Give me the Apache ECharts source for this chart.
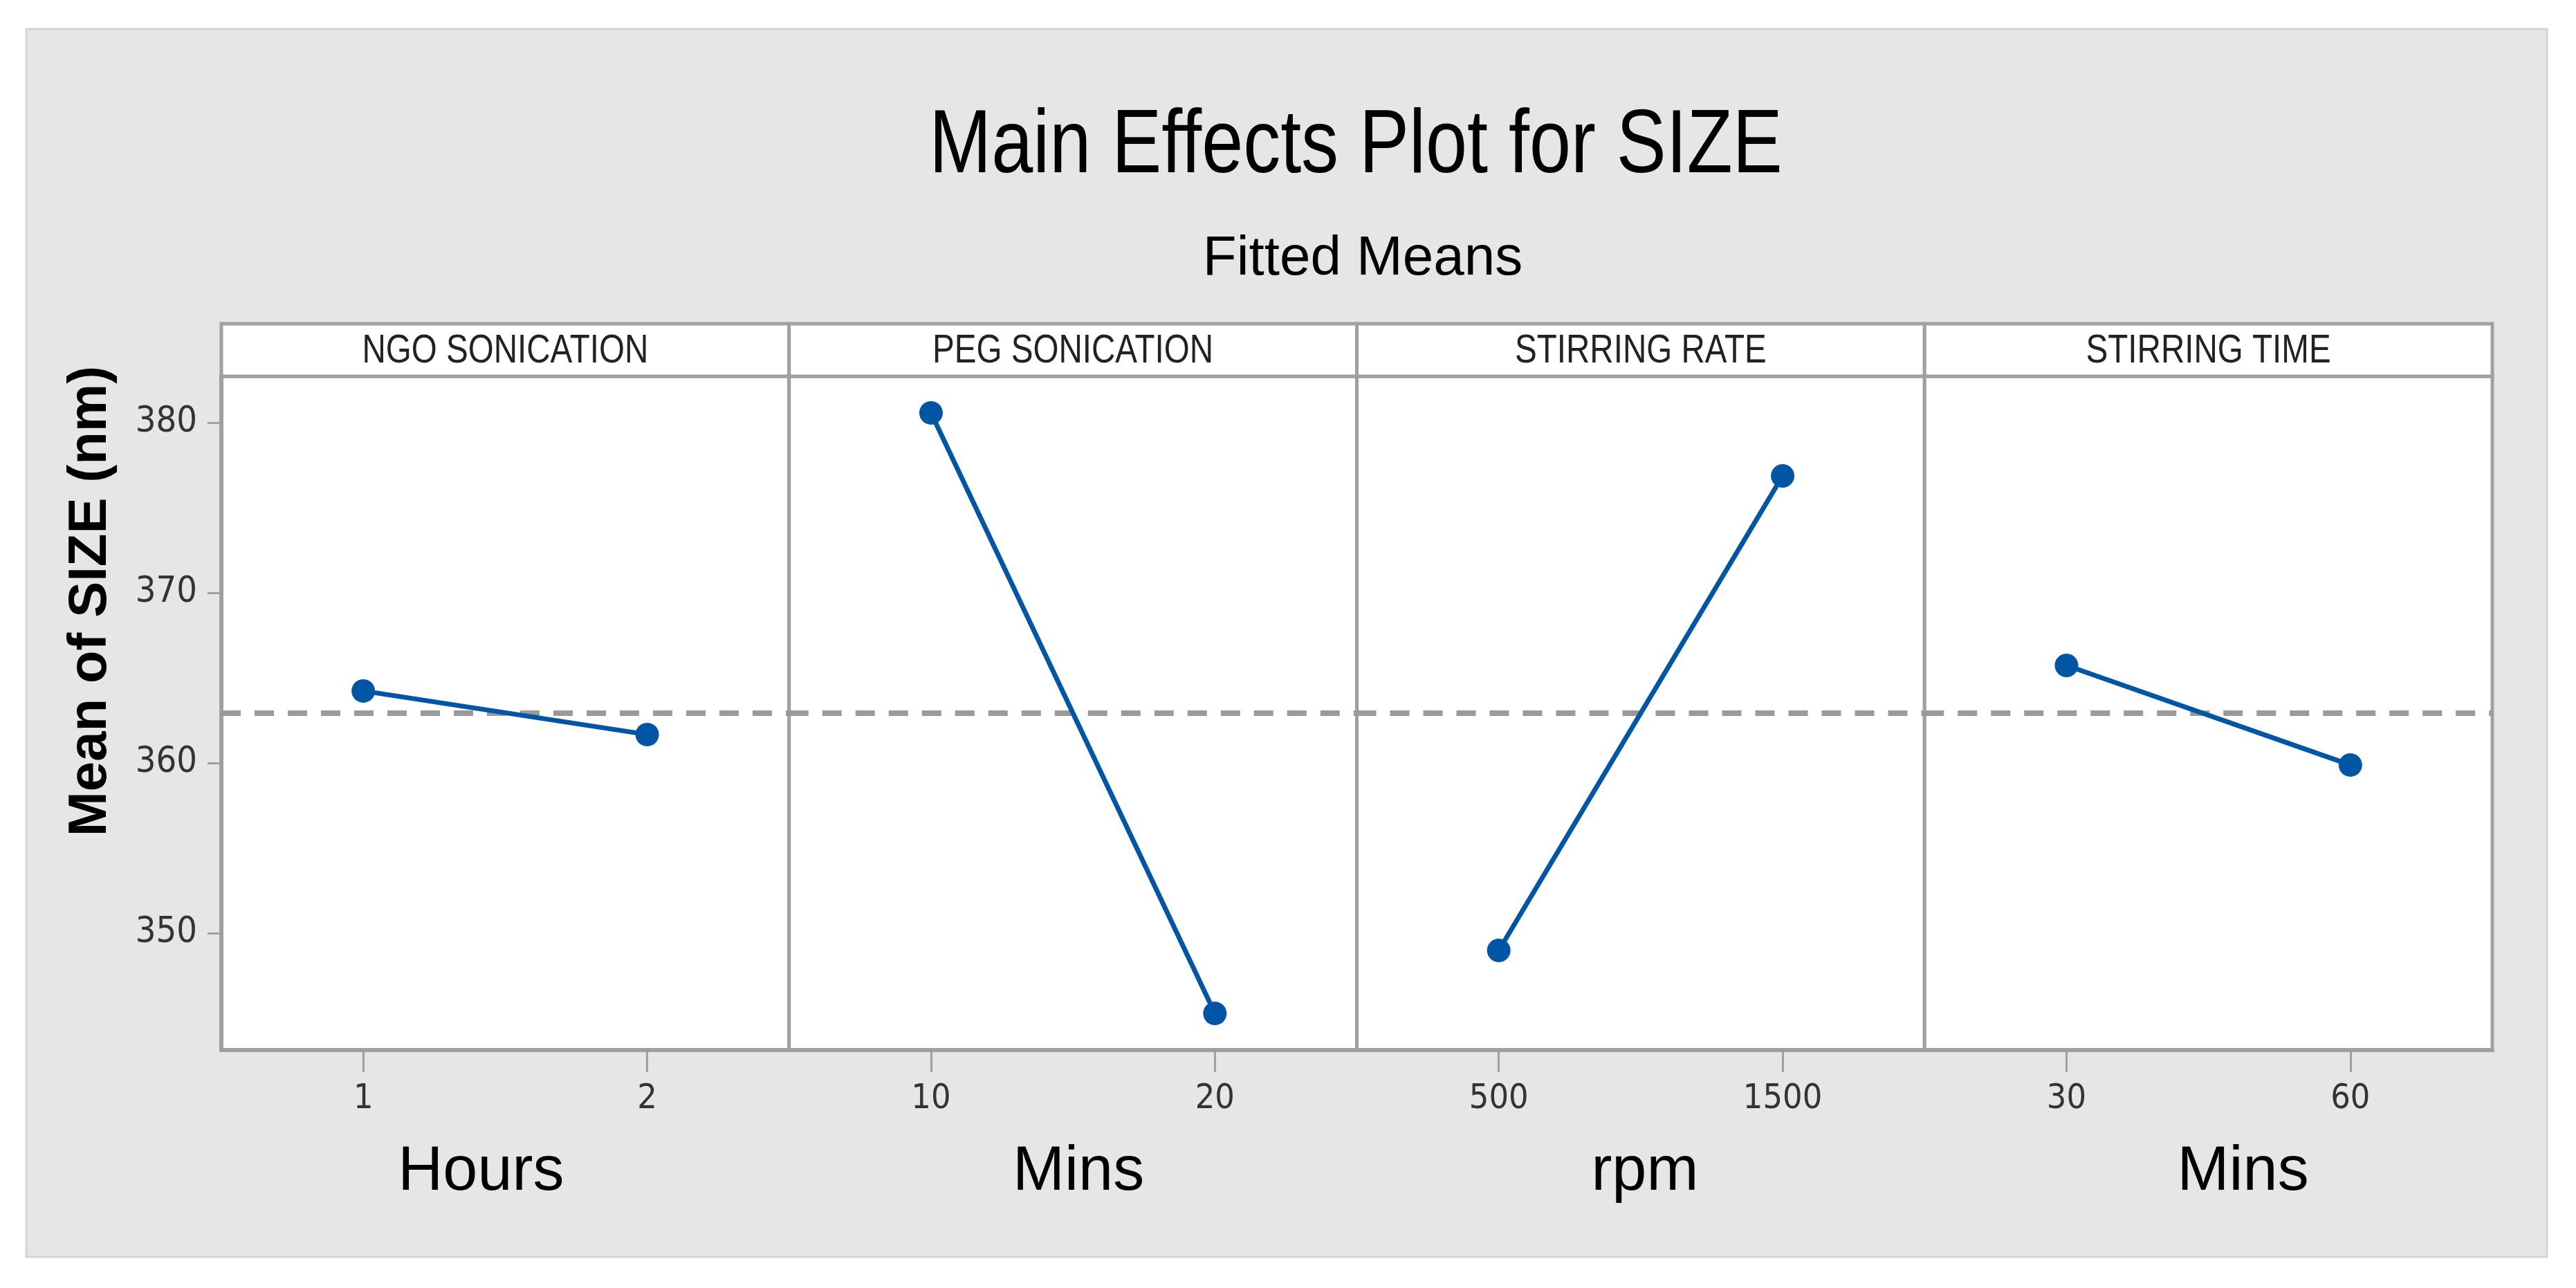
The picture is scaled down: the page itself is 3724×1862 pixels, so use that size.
<!DOCTYPE html>
<html>
<head>
<meta charset="utf-8">
<script src="https://cdn.jsdelivr.net/npm/echarts@6/dist/echarts.min.js"></script>
<style>
html,body{margin:0;padding:0;background:#ffffff;}
#c{width:3724px;height:1862px;}
</style>
</head>
<body>
<div id="c"></div>
<script>
// ---- data ----
const panelTitles = ['NGO SONICATION', 'PEG SONICATION', 'STIRRING RATE', 'STIRRING TIME'];
const levelLabels = [['1', '2'], ['10', '20'], ['500', '1500'], ['30', '60']];
const unitLabels = ['Hours', 'Mins', 'rpm', 'Mins'];
const ngoMeans = [364.23, 361.67];
const pegMeans = [380.57, 345.28];
const rateMeans = [348.98, 376.87];
const timeMeans = [365.73, 359.88];
const grandMean = 362.93;
const yTicks = [350, 360, 370, 380];
const yLabel = 'Mean of SIZE (nm)';
const mainTitle = 'Main Effects Plot for SIZE';
const subTitle = 'Fitted Means';

// ---- layout / style ----
const NARROW = '"Liberation Sans Narrow", "DejaVu Sans Condensed", "Liberation Sans", Arial, sans-serif';
const SANS = '"Liberation Sans", Arial, sans-serif';
const L = 320, R = 3603, TOP = 544, BOT = 1518, HEAD_TOP = 468;
const PW = (R - L) / 4;
const FRAME = '#a0a0a0';
const BLUE = '#0055a5';
const nameShift = [-35, 8, 6, 50];
const seriesData = [ngoMeans, pegMeans, rateMeans, timeMeans];

const grids = [], xAxes = [], yAxes = [], series = [], graphics = [];

graphics.push({
  type: 'rect', z: -100, silent: true,
  shape: { x: 38, y: 42, width: 3644, height: 1775 },
  style: { fill: '#e6e6e6', stroke: '#d4d4d4', lineWidth: 3 }
});

graphics.push({
  type: 'text', z: 20, silent: true,
  x: 1960, y: 213, scaleX: 0.83,
  style: {
    text: mainTitle, fontSize: 130, fontFamily: SANS, fill: '#000000',
    align: 'center', verticalAlign: 'middle'
  }
});

for (let i = 0; i < 4; i++) {
  const left = L + i * PW;
  grids.push({
    left: left, top: TOP, width: PW, height: BOT - TOP,
    show: true, backgroundColor: '#ffffff', borderColor: FRAME, borderWidth: 5,
    containLabel: false, outerBoundsMode: 'none'
  });
  const sh = nameShift[i];
  xAxes.push({
    type: 'category', gridIndex: i, data: levelLabels[i], boundaryGap: true,
    axisLine: { show: true, lineStyle: { color: FRAME, width: 6 } },
    axisTick: { show: true, alignWithLabel: true, length: 32, lineStyle: { color: FRAME, width: 3 } },
    axisLabel: { margin: 46, fontSize: 50, color: '#333333', fontFamily: NARROW },
    splitLine: { show: false },
    name: unitLabels[i], nameLocation: 'middle', nameGap: 132,
    nameTextStyle: {
      fontSize: 90, color: '#000000', fontFamily: SANS,
      padding: sh >= 0 ? [0, 0, 0, 2 * sh] : [0, -2 * sh, 0, 0]
    }
  });
  yAxes.push({
    type: 'value', gridIndex: i, min: 343.13, max: 382.72,
    axisLine: { show: i === 0, lineStyle: { color: FRAME, width: 6 } },
    axisTick: { show: i === 0, length: 20, customValues: yTicks, lineStyle: { color: FRAME, width: 3 } },
    axisLabel: { show: i === 0, customValues: yTicks, margin: 35, fontSize: 52, color: '#333333', fontFamily: NARROW },
    splitLine: { show: false },
    name: i === 0 ? yLabel : '', nameLocation: 'middle', nameGap: 150,
    nameTextStyle: { fontSize: 78, fontWeight: 'bold', color: '#000000', fontFamily: SANS, padding: [0, 0, 0, 324] }
  });
  series.push({
    type: 'line', xAxisIndex: i, yAxisIndex: i, data: seriesData[i],
    symbol: 'circle', symbolSize: 34,
    lineStyle: { color: BLUE, width: 7 },
    itemStyle: { color: BLUE },
    z: 5,
    markLine: {
      silent: true, symbol: 'none', label: { show: false },
      lineStyle: { type: [28, 20], color: '#9a9a9a', width: 8 },
      data: [{ yAxis: grandMean }]
    }
  });
  graphics.push({
    type: 'rect', z: 10, silent: true,
    shape: { x: left, y: HEAD_TOP, width: PW, height: TOP - HEAD_TOP },
    style: { fill: '#ffffff', stroke: FRAME, lineWidth: 5 }
  });
  graphics.push({
    type: 'text', z: 11, silent: true,
    x: left + PW / 2, y: (HEAD_TOP + TOP) / 2 + 2, scaleX: 0.82,
    style: {
      text: panelTitles[i], fontSize: 58, fontFamily: SANS, fill: '#222222',
      align: 'center', verticalAlign: 'middle'
    }
  });
}

const chart = echarts.init(document.getElementById('c'), null, { renderer: 'canvas' });
chart.setOption({
  animation: false,
  backgroundColor: '#ffffff',
  title: [
    { text: subTitle, left: 1965, top: 330, textAlign: 'center',
      textStyle: { fontSize: 80, fontWeight: 'normal', color: '#000000', fontFamily: SANS } }
  ],
  grid: grids,
  xAxis: xAxes,
  yAxis: yAxes,
  series: series,
  graphic: graphics
});
</script>
</body>
</html>
